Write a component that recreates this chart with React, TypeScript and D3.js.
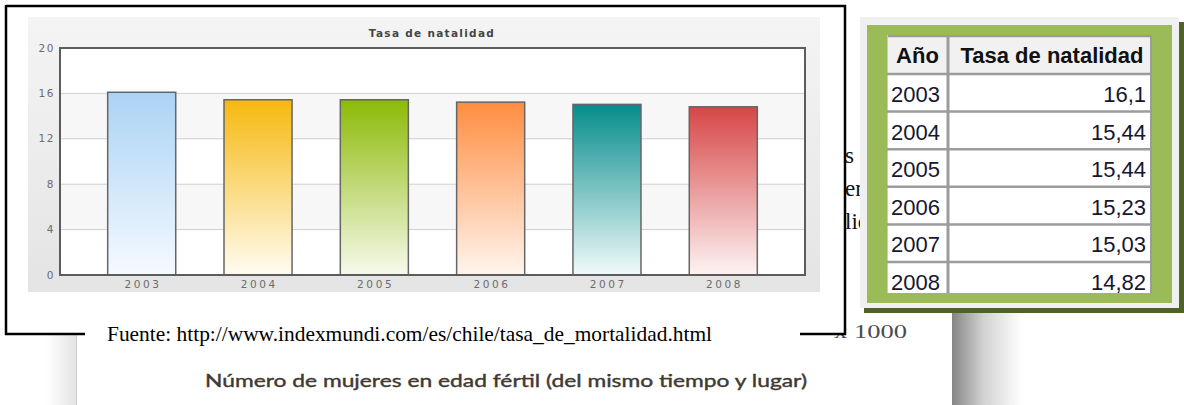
import React from 'react';
import * as d3 from 'd3';

const W = 1184;
const H = 405;

// chart data
const years = ['2003', '2004', '2005', '2006', '2007', '2008'];
const natalidad = [16.1, 15.44, 15.44, 15.23, 15.03, 14.82];
const yTicks = [0, 4, 8, 12, 16, 20];
const barTopColors = ['#abd3f5', '#f6b90e', '#8cba06', '#ff8d40', '#068c8c', '#d74646'];
const barBottomColors = ['#f5faff', '#fffcf2', '#f7faec', '#fff5ef', '#f1fafa', '#fdf3f3'];
const chartTitle = 'Tasa de natalidad';

// table + surrounding page text
const tableHeaders = ['Año', 'Tasa de natalidad'];
const sourceNote = 'Fuente: http://www.indexmundi.com/es/chile/tasa_de_mortalidad.html';
const lowerCaption = 'Número de mujeres en edad fértil (del mismo tiempo y lugar)';
const lowerUnit = 'x 1000';
const paragraphBits = ['s', 'en', 'lic'];

const plot = { left: 60, right: 805, top: 48, bottom: 275 };
const table = { left: 887, right: 1152, top: 35, headerBottom: 74, colSplit: 948, clipBottom: 293 };

const fmtComma = (v: number) => String(v).replace('.', ',');

const BarChart = () => {
  const x = d3.scaleBand<string>()
    .domain(years)
    .range([plot.left, plot.right])
    .paddingInner(0.415)
    .paddingOuter(0.41);
  const y = d3.scaleLinear().domain([0, 20]).range([plot.bottom, plot.top]);

  return (
    <g>
      <defs>
        <linearGradient id="panel-bg" x1="0" y1="0" x2="0" y2="1">
          <stop offset="0" stopColor="#f4f4f4" />
          <stop offset="1" stopColor="#e4e4e4" />
        </linearGradient>
        {years.map((yr, i) => (
          <linearGradient key={yr} id={`bar-g-${i}`} x1="0" y1="0" x2="0" y2="1">
            <stop offset="0" stopColor={barTopColors[i]} />
            <stop offset="1" stopColor={barBottomColors[i]} />
          </linearGradient>
        ))}
      </defs>
      <rect x={28} y={17} width={792} height={275} fill="url(#panel-bg)" />
      <rect x={plot.left} y={plot.top} width={plot.right - plot.left} height={plot.bottom - plot.top} fill="#fff" />
      {/* alternating bands */}
      {yTicks.slice(0, -1).map((t, i) =>
        i % 2 === 1 ? (
          <rect key={t} x={plot.left} y={y(t + 4)} width={plot.right - plot.left} height={y(t) - y(t + 4)} fill="#f7f7f7" />
        ) : null
      )}
      {yTicks.slice(1, -1).map(t => (
        <line key={t} x1={plot.left} x2={plot.right} y1={y(t)} y2={y(t)} stroke="#cfcfcf" strokeWidth={1} />
      ))}
      {natalidad.map((v, i) => (
        <rect
          key={years[i]}
          x={x(years[i])}
          y={y(v)}
          width={x.bandwidth()}
          height={y(0) - y(v)}
          fill={`url(#bar-g-${i})`}
          stroke="#666"
          strokeWidth={1.5}
        />
      ))}
      <rect x={plot.left} y={plot.top} width={plot.right - plot.left} height={plot.bottom - plot.top} fill="none" stroke="#5c5c5c" strokeWidth={2} />
      {yTicks.map(t => (
        <text key={t} x={55} y={y(t) + 3.5} textAnchor="end" fontFamily="DejaVu Sans" fontSize={10.5} letterSpacing={1.6} fill="#6c6c6c">
          {t}
        </text>
      ))}
      {years.map(yr => (
        <text key={yr} x={(x(yr) as number) + x.bandwidth() / 2 + 1.3} y={288} textAnchor="middle" fontFamily="DejaVu Sans" fontSize={10.5} letterSpacing={2.6} fill="#6c6c6c">
          {yr}
        </text>
      ))}
      <text x={432} y={37} textAnchor="middle" fontFamily="DejaVu Sans" fontWeight="bold" fontSize={10.5} letterSpacing={1.3} fill="#454545">
        {chartTitle}
      </text>
    </g>
  );
};

const DataTable = () => {
  const rows = d3.scaleBand<string>()
    .domain(years)
    .range([table.headerBottom, table.headerBottom + years.length * 37.6]);
  const font = 'Liberation Sans, Arial, sans-serif';
  return (
    <g>
      <rect x={864} y={22} width={320} height={291} fill="#4f6228" />
      <rect x={860} y={17} width={319} height={291} fill="#f0f0f0" />
      <rect x={867} y={25} width={305} height={278} fill="#9bbb59" />
      <defs>
        <clipPath id="tbl-clip">
          <rect x={table.left} y={table.top} width={table.right - table.left} height={table.clipBottom - table.top} />
        </clipPath>
      </defs>
      <g clipPath="url(#tbl-clip)">
        <rect x={table.left} y={table.top} width={table.right - table.left} height={400} fill="#fff" />
        <rect x={table.left} y={table.top} width={table.right - table.left} height={table.headerBottom - table.top} fill="#f1f1f1" />
        <line x1={table.left} x2={table.right} y1={table.top + 1} y2={table.top + 1} stroke="#9c9c9c" strokeWidth={2.5} />
        <line x1={table.right - 1} x2={table.right - 1} y1={table.top} y2={400} stroke="#9c9c9c" strokeWidth={2} />
        <line x1={table.left + 0.5} x2={table.left + 0.5} y1={table.top} y2={400} stroke="#c8c8c8" strokeWidth={1} />
        <line x1={table.colSplit} x2={table.colSplit} y1={table.top} y2={400} stroke="#9c9c9c" strokeWidth={3} />
        {years.map(yr => (
          <line key={yr} x1={table.left} x2={table.right} y1={rows(yr) as number} y2={rows(yr) as number} stroke="#9c9c9c" strokeWidth={2.5} />
        ))}
        <text x={(table.left + table.colSplit) / 2} y={63} textAnchor="middle" fontFamily={font} fontWeight="bold" fontSize={22} fill="#111">
          {tableHeaders[0]}
        </text>
        <text x={(table.colSplit + table.right) / 2 + 2} y={63} textAnchor="middle" fontFamily={font} fontWeight="bold" fontSize={22} fill="#111">
          {tableHeaders[1]}
        </text>
        {years.map((yr, i) => (
          <g key={yr}>
            <text x={891} y={(rows(yr) as number) + 28} fontFamily={font} fontSize={22} fill="#161630">
              {yr}
            </text>
            <text x={1146} y={(rows(yr) as number) + 28} textAnchor="end" fontFamily={font} fontSize={22} fill="#161630">
              {fmtComma(natalidad[i])}
            </text>
          </g>
        ))}
      </g>
    </g>
  );
};

const App = () => {
  return (
    <svg width={W} height={H} style={{ position: 'absolute', left: 0, top: 0 }}>
      <defs>
        <linearGradient id="shadow-left" x1="0" y1="0" x2="1" y2="0">
          <stop offset="0" stopColor="#fff" />
          <stop offset="1" stopColor="#e4e4e4" />
        </linearGradient>
        <linearGradient id="shadow-right" x1="0" y1="0" x2="1" y2="0">
          <stop offset="0" stopColor="#858585" />
          <stop offset="0.45" stopColor="#d2d2d2" />
          <stop offset="1" stopColor="#fff" />
        </linearGradient>
      </defs>
      <rect width={W} height={H} fill="#fff" />

      {/* paragraph text peeking out behind the chart frame */}
      {paragraphBits.map((t, i) => (
        <text key={t} x={845} y={163 + i * 33} fontFamily="Liberation Serif, Times New Roman, serif" fontSize={23} fill="#111">
          {t}
        </text>
      ))}

      {/* lower image underneath */}
      <rect x={46} y={333} width={30} height={72} fill="url(#shadow-left)" />
      <line x1={76.5} x2={76.5} y1={333} y2={405} stroke="#cdcdcd" />
      <rect x={952} y={308} width={70} height={97} fill="url(#shadow-right)" />
      <text x={506} y={387} textAnchor="middle" fontFamily="Lato, Open Sans, sans-serif" fontSize={17.5} textLength={602} lengthAdjust="spacingAndGlyphs" fill="#3f3a33" stroke="#3f3a33" strokeWidth={0.4}>
        {lowerCaption}
      </text>
      <text x={834} y={338} fontFamily="Liberation Serif, serif" fontSize={19} textLength={73} lengthAdjust="spacingAndGlyphs" fill="#4c4c4c">
        {lowerUnit}
      </text>

      {/* black frame */}
      <rect x={6} y={6} width={839} height={328} fill="#fff" />
      <g stroke="#000" strokeWidth={2.5}>
        <line x1={6} x2={846} y1={6} y2={6} />
        <line x1={6} x2={6} y1={5} y2={335} />
        <line x1={845} x2={845} y1={5} y2={335} />
        <line x1={5} x2={85} y1={334} y2={334} />
        <line x1={800} x2={846} y1={334} y2={334} />
      </g>
      <text x={107} y={340.5} fontFamily="Liberation Serif, Times New Roman, serif" fontSize={21} textLength={605} lengthAdjust="spacingAndGlyphs" fill="#000">
        {sourceNote}
      </text>

      <BarChart />
      <DataTable />
    </svg>
  );
};

export default App;
